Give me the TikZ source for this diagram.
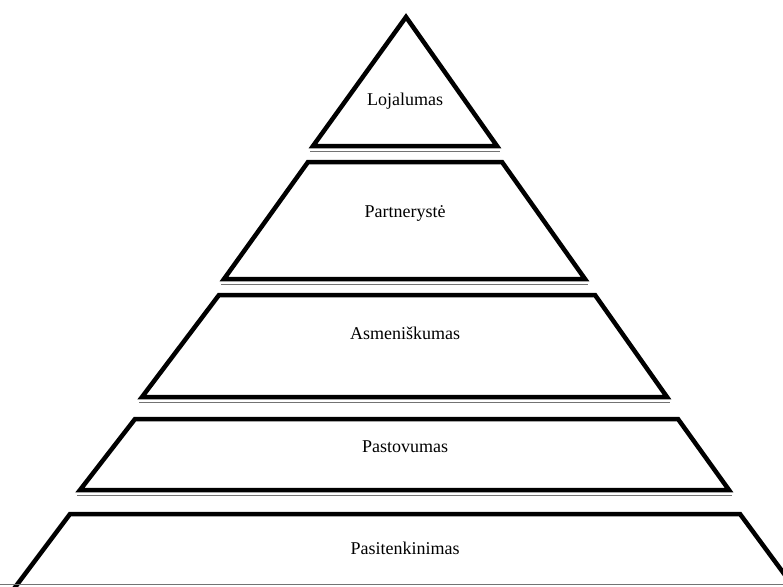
\documentclass[tikz,border=0pt]{standalone}
\usepackage{fontspec}
\setmainfont{Liberation Serif}
\begin{document}
\begin{tikzpicture}[x=1pt,y=-1pt,
  tier/.style={draw=black,line width=4.5pt,line join=miter,fill=white},
  shade/.style={draw=black!55,line width=0.8pt},
  lbl/.style={font=\fontsize{18}{21}\selectfont,inner sep=0pt}]
\fill[white] (0,0) rectangle (783,586);
\begin{scope}
\clip (0,0) rectangle (783,586);
% triangle
\draw[tier] (406,17) -- (497,146) -- (313,146) -- cycle;
\draw[shade] (310,151) -- (500,151);
\node[lbl] (t1) at (405,101) {Lojalumas};
% tier 2
\draw[tier] (308,162) -- (502,162) -- (585,279) -- (224,279) -- cycle;
\draw[shade] (221,284) -- (588,284);
\node[lbl] (t2) at (405,213) {Partnerystė};
% tier 3
\draw[tier] (219,295) -- (595,295) -- (667,397) -- (142,397) -- cycle;
\draw[shade] (139,402) -- (670,402);
\node[lbl] (t3) at (405,333) {Asmeniškumas};
% tier 4
\draw[tier] (135,419) -- (678,419) -- (729,490) -- (80,490) -- cycle;
\draw[shade] (77,495) -- (732,495);
\node[lbl] (t4) at (405,447) {Pastovumas};
% tier 5
\draw[tier] (13,590) -- (70,514) -- (740,514) -- (796,590);
\draw[shade] (0,584) -- (783,584);
\node[lbl] (t5) at (405,548) {Pasitenkinimas};
\end{scope}
\useasboundingbox (0,0) rectangle (783,586);
\end{tikzpicture}
\end{document}
